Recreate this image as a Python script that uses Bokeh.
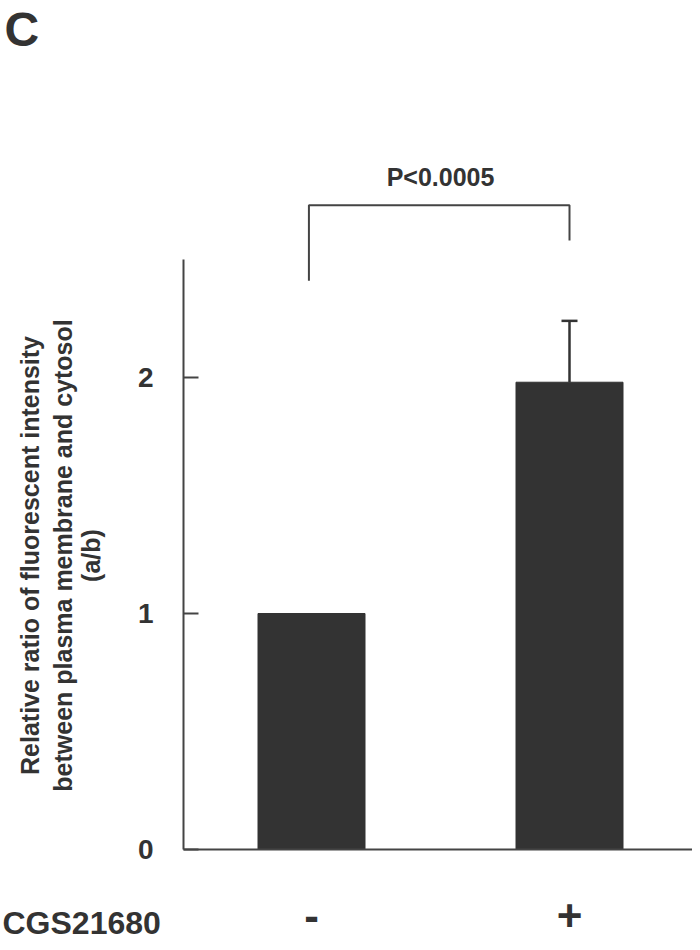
import math
from bokeh.plotting import figure
from bokeh.models import FixedTicker, Whisker, ColumnDataSource, TeeHead, Range1d
from bokeh.core.properties import value
from bokeh.embed import file_html
from bokeh.resources import INLINE

# data
treatments = ["-", "+"]
positions = [1, 2]
ratios = [1.0, 1.98]
errors = [0.0, 0.26]
y_ticks = [0, 1, 2]
p_text = "P<0.0005"
y_title = ["Relative ratio of fluorescent intensity",
           "between plasma membrane and cytosol",
           "(a/b)"]
x_title = "CGS21680"
panel = "C"

FONT = "Liberation Sans"
DARK = "#333333"
AXC = "#444444"

W, H = 692, 942
XS, YS = 258.0, 236.0          # pixels per data unit
X0 = positions[0] - 311 / XS   # data x at left canvas edge
Y0PX = 849                      # pixel row of y = 0


def X(px):
    return X0 + px / XS


def Y(py):
    return (Y0PX - py) / YS


p = figure(width=W, height=H, output_backend="svg", toolbar_location=None,
           x_range=Range1d(X(0), X(W)), y_range=Range1d(Y(H), Y(0)),
           min_border=0, min_border_left=0, min_border_right=0,
           min_border_top=0, min_border_bottom=0)
p.outline_line_color = None
p.grid.visible = False
p.background_fill_color = "white"
p.border_fill_color = "white"

src = ColumnDataSource(dict(x=positions, top=ratios))
p.vbar(x="x", top="top", width=107 / XS, bottom=0, source=src,
       fill_color=DARK, line_color=DARK)

err_src = ColumnDataSource(dict(x=positions[1:], lower=ratios[1:],
                                upper=[r + e for r, e in zip(ratios[1:], errors[1:])]))
p.add_layout(Whisker(base="x", lower="lower", upper="upper", source=err_src,
                     line_color=DARK, line_width=2.5,
                     upper_head=TeeHead(size=16, line_color=DARK, line_width=2.5),
                     lower_head=None))

# significance bracket
bx = [positions[0] - 0.01, positions[0] - 0.01, positions[1], positions[1]]
by = [2.41, 2.73, 2.73, 2.58]
p.line(bx, by, line_color=AXC, line_width=2)
p.text(x=[sum(positions) / 2], y=[2.85], text=[p_text], text_align="center",
       text_baseline="middle", text_font=value(FONT), text_font_style="bold",
       text_font_size="25px", text_color=DARK)

# y axis (drawn at a fixed location inside the full-canvas frame)
ya = p.yaxis[0]
ya.fixed_location = X(183)
ya.bounds = (0, 2.5)
ya.ticker = FixedTicker(ticks=y_ticks)
ya.minor_tick_line_color = None
ya.major_tick_in = 15
ya.major_tick_out = 0
ya.major_tick_line_width = 2
ya.major_tick_line_color = AXC
ya.axis_line_width = 2
ya.axis_line_color = AXC
ya.major_label_standoff = 30
ya.major_label_text_font = FONT
ya.major_label_text_font_style = "bold"
ya.major_label_text_font_size = "28px"
ya.major_label_text_color = DARK

# x axis
xa = p.xaxis[0]
xa.fixed_location = 0
xa.bounds = (X(183), X(W))
xa.ticker = FixedTicker(ticks=positions)
xa.major_label_overrides = {pos: t for pos, t in zip(positions, treatments)}
xa.major_tick_line_color = None
xa.minor_tick_line_color = None
xa.axis_line_width = 2
xa.axis_line_color = AXC
xa.major_label_standoff = 44
xa.major_label_text_font = FONT
xa.major_label_text_font_style = "bold"
xa.major_label_text_font_size = "44px"
xa.major_label_text_color = DARK

# y title: three rotated lines
p.text(x=[X(29), X(62), X(90)], y=[Y(555)] * 3, text=y_title, angle=math.pi / 2,
       text_align="center", text_baseline="middle", text_font=value(FONT),
       text_font_style="bold", text_font_size="25px", text_color=DARK)

# row label and panel letter
p.text(x=[X(2)], y=[Y(922)], text=[x_title], text_align="left", text_baseline="middle",
       text_font=value(FONT), text_font_style="bold", text_font_size="32px",
       text_color=DARK)
p.text(x=[X(4)], y=[Y(2)], text=[panel], text_align="left", text_baseline="top",
       text_font=value(FONT), text_font_style="bold", text_font_size="48px",
       text_color=DARK)

open("out.html", "w").write(file_html(p, INLINE))
